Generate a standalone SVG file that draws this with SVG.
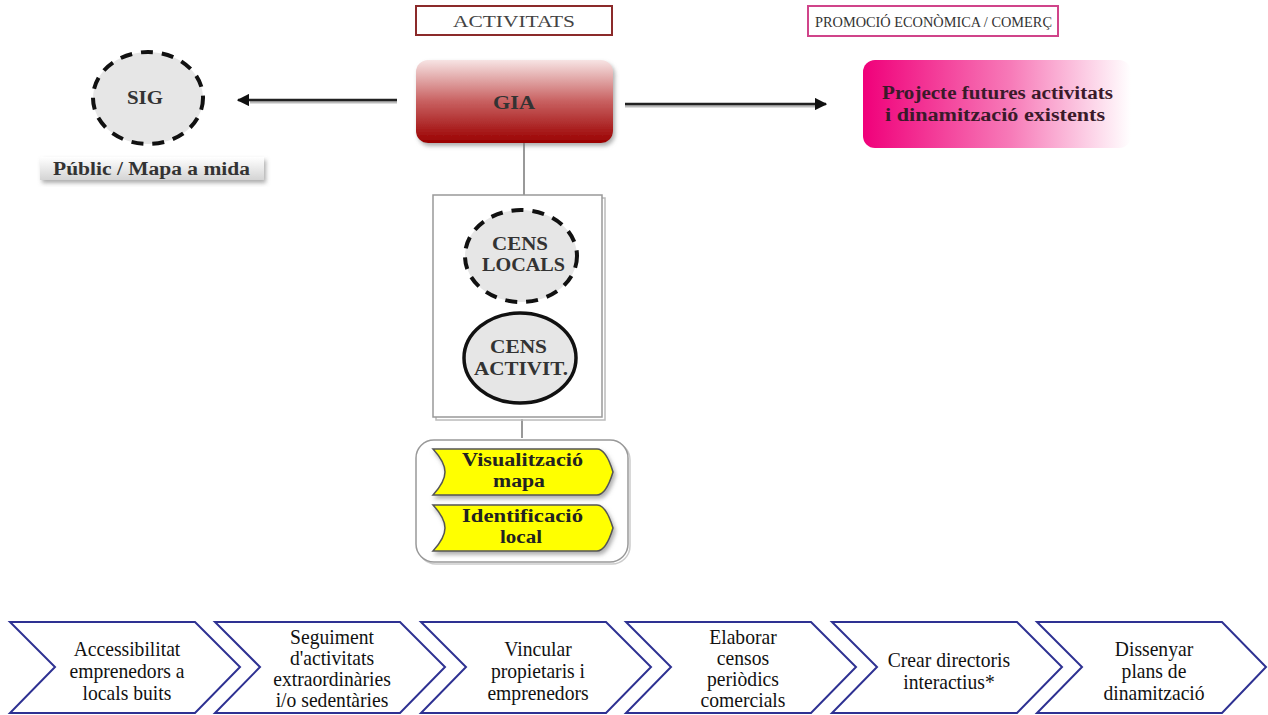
<svg xmlns="http://www.w3.org/2000/svg" width="1268" height="715" viewBox="0 0 1268 715" font-family="'Liberation Serif', 'DejaVu Serif', serif">
<style>
text{font-family:'Liberation Serif','DejaVu Serif',serif;}
.chev{fill:#ffffff;stroke:#2e3192;stroke-width:2;}
.ct{font-size:20px;fill:#111;text-anchor:middle;}
.yel{fill:#ffff00;stroke:#555;stroke-width:1.5;}
.yt{font-size:18px;font-weight:bold;fill:#222;}
.circt{font-size:18px;font-weight:bold;fill:#333;}
</style>
<defs>
<linearGradient id="gia" x1="0" y1="0" x2="0" y2="1">
<stop offset="0" stop-color="#f7e4e4"/>
<stop offset="0.5" stop-color="#c86060"/>
<stop offset="1" stop-color="#9a0000"/>
</linearGradient>
<linearGradient id="pink" x1="0" y1="0" x2="1" y2="0">
<stop offset="0" stop-color="#f0007a"/>
<stop offset="0.55" stop-color="#f77ab8"/>
<stop offset="1" stop-color="#ffffff"/>
</linearGradient>
<linearGradient id="grey" x1="0" y1="0" x2="0" y2="1">
<stop offset="0" stop-color="#ffffff"/>
<stop offset="1" stop-color="#d4d4d4"/>
</linearGradient>
<filter id="sh" x="-10%" y="-10%" width="130%" height="140%">
<feDropShadow dx="2" dy="3" stdDeviation="2" flood-color="#777" flood-opacity="0.6"/>
</filter>
<marker id="ah" viewBox="0 0 10 10" refX="9" refY="5" markerWidth="5" markerHeight="5" orient="auto" markerUnits="strokeWidth">
<path d="M0,0 L10,5 L0,10 z" fill="#111"/>
</marker>
</defs>

<rect width="1268" height="715" fill="#ffffff"/>

<g id="connectors">
<line x1="397" y1="102" x2="250" y2="102" stroke="#bbb" stroke-width="3"/>
<line x1="397" y1="100" x2="238" y2="100" stroke="#222" stroke-width="2.5" marker-end="url(#ah)"/>
<line x1="625" y1="106" x2="815" y2="106" stroke="#bbb" stroke-width="3"/>
<line x1="625" y1="104" x2="826" y2="104" stroke="#222" stroke-width="2.5" marker-end="url(#ah)"/>
<line x1="524" y1="143" x2="524" y2="196" stroke="#999" stroke-width="2"/>
<line x1="522" y1="419" x2="522" y2="438" stroke="#999" stroke-width="2"/>
</g>

<g id="activitats">
<rect x="416" y="6" width="196" height="29" fill="#fff" stroke="#8b2a2a" stroke-width="2"/>
<text x="453" y="27" font-size="16" fill="#444" textLength="122" lengthAdjust="spacingAndGlyphs">ACTIVITATS</text>
</g>

<g id="promocio">
<rect x="808" y="6" width="250" height="30" fill="#fff" stroke="#d0448a" stroke-width="2"/>
<text x="815" y="27" font-size="15" fill="#333" textLength="237" lengthAdjust="spacingAndGlyphs">PROMOCIÓ ECONÒMICA / COMERÇ</text>
</g>

<g id="gia-node">
<rect x="416" y="60" width="197" height="83" rx="12" fill="url(#gia)" filter="url(#sh)"/>
<text x="493" y="109" font-size="18" font-weight="bold" fill="#333" textLength="42" lengthAdjust="spacingAndGlyphs">GIA</text>
</g>

<g id="sig">
<ellipse cx="148" cy="98" rx="55" ry="46" fill="#e6e6e6" stroke="#111" stroke-width="4" stroke-dasharray="12,9"/>
<text x="127" y="104" class="circt" textLength="36" lengthAdjust="spacingAndGlyphs">SIG</text>
</g>

<g id="public">
<rect x="40" y="157" width="224" height="23" fill="url(#grey)" filter="url(#sh)"/>
<text x="53" y="175" font-size="18" font-weight="bold" fill="#333" textLength="197" lengthAdjust="spacingAndGlyphs">Públic / Mapa a mida</text>
</g>

<g id="projecte">
<rect x="863" y="60" width="268" height="88" rx="12" fill="url(#pink)"/>
<text x="882" y="99" font-size="18" font-weight="bold" fill="#3a1a2a" textLength="231" lengthAdjust="spacingAndGlyphs">Projecte futures activitats</text>
<text x="885" y="121" font-size="18" font-weight="bold" fill="#3a1a2a" textLength="220" lengthAdjust="spacingAndGlyphs">i dinamització existents</text>
</g>

<g id="cens-box">
<rect x="436" y="198" width="169" height="222" fill="none" stroke="#bbb" stroke-width="1.5"/>
<rect x="433" y="195" width="169" height="222" fill="#fff" stroke="#999" stroke-width="1.5"/>
</g>

<g id="cens-locals">
<ellipse cx="521" cy="256" rx="56" ry="46" fill="#e6e6e6" stroke="#111" stroke-width="4" stroke-dasharray="12,9"/>
<text x="492" y="250" class="circt" textLength="56" lengthAdjust="spacingAndGlyphs">CENS</text>
<text x="482" y="271" class="circt" textLength="83" lengthAdjust="spacingAndGlyphs">LOCALS</text>
</g>

<g id="cens-activit">
<ellipse cx="520" cy="358" rx="56" ry="45" fill="#e6e6e6" stroke="#111" stroke-width="3.5"/>
<text x="490" y="353" class="circt" textLength="57" lengthAdjust="spacingAndGlyphs">CENS</text>
<text x="474" y="375" class="circt" textLength="94" lengthAdjust="spacingAndGlyphs">ACTIVIT.</text>
</g>

<g id="vis-box">
<rect x="418" y="442" width="212" height="122" rx="18" fill="none" stroke="#ccc" stroke-width="1.5"/>
<rect x="416" y="440" width="212" height="122" rx="18" fill="#fff" stroke="#999" stroke-width="1.5"/>
</g>

<g id="visualitzacio">
<path class="yel" d="M433,449 L597,449 Q606,449 613,472 Q606,495 597,495 L433,495 Q445,482 445,472 Q445,462 433,449 Z" filter="url(#sh)"/>
<text x="462" y="466" class="yt" textLength="121" lengthAdjust="spacingAndGlyphs">Visualització</text>
<text x="493" y="487" class="yt" textLength="52" lengthAdjust="spacingAndGlyphs">mapa</text>
</g>

<g id="identificacio">
<path class="yel" d="M433,505 L597,505 Q606,505 613,528 Q606,551 597,551 L433,551 Q445,538 445,528 Q445,518 433,505 Z" filter="url(#sh)"/>
<text x="462" y="522" class="yt" textLength="121" lengthAdjust="spacingAndGlyphs">Identificació</text>
<text x="500" y="543" class="yt" textLength="42" lengthAdjust="spacingAndGlyphs">local</text>
</g>

<g id="step1">
<polygon class="chev" points="10,622 195,622 240,667 195,713 10,713 55,667"/>
<g transform="matrix(0.98,0,0,1,2.54,0)">
<text class="ct" x="127" y="656">Accessibilitat</text>
<text class="ct" x="127" y="678">emprenedors a</text>
<text class="ct" x="127" y="700">locals buits</text>
</g>
</g>
<g id="step2">
<polygon class="chev" points="215,622 400,622 445,667 400,713 215,713 260,667"/>
<g transform="matrix(0.98,0,0,1,6.64,0)">
<text class="ct" x="332" y="644">Seguiment</text>
<text class="ct" x="332" y="665">d'activitats</text>
<text class="ct" x="332" y="686">extraordinàries</text>
<text class="ct" x="332" y="707">i/o sedentàries</text>
</g>
</g>
<g id="step3">
<polygon class="chev" points="421,622 606,622 651,667 606,713 421,713 466,667"/>
<g transform="matrix(0.98,0,0,1,10.76,0)">
<text class="ct" x="538" y="656">Vincular</text>
<text class="ct" x="538" y="678">propietaris i</text>
<text class="ct" x="538" y="700">emprenedors</text>
</g>
</g>
<g id="step4">
<polygon class="chev" points="626,622 811,622 856,667 811,713 626,713 671,667"/>
<g transform="matrix(0.98,0,0,1,14.86,0)">
<text class="ct" x="743" y="644">Elaborar</text>
<text class="ct" x="743" y="665">censos</text>
<text class="ct" x="743" y="686">periòdics</text>
<text class="ct" x="743" y="707">comercials</text>
</g>
</g>
<g id="step5">
<polygon class="chev" points="832,622 1017,622 1062,667 1017,713 832,713 877,667"/>
<g transform="matrix(0.98,0,0,1,18.98,0)">
<text class="ct" x="949" y="667">Crear directoris</text>
<text class="ct" x="949" y="689">interactius*</text>
</g>
</g>
<g id="step6">
<polygon class="chev" points="1037,622 1222,622 1266,667 1222,713 1037,713 1082,667"/>
<g transform="matrix(0.98,0,0,1,23.08,0)">
<text class="ct" x="1154" y="656">Dissenyar</text>
<text class="ct" x="1154" y="678">plans de</text>
<text class="ct" x="1154" y="700">dinamització</text>
</g>
</g>
</svg>
